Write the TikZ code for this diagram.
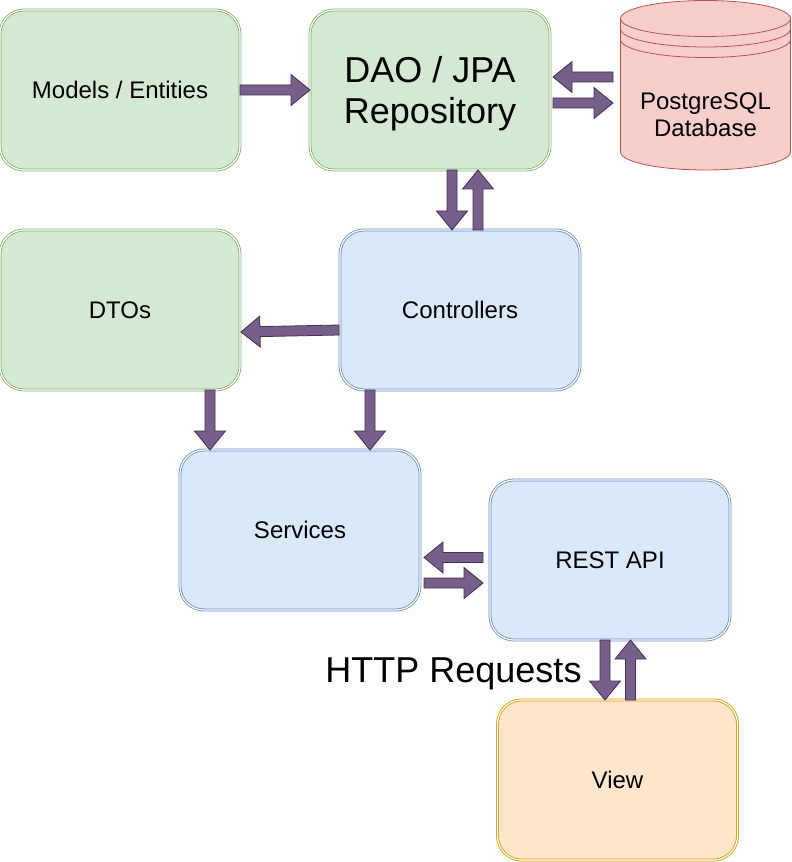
\documentclass[tikz,border=0pt]{standalone}
\usepackage{fontspec}
\setmainfont{Liberation Sans}
\usetikzlibrary{calc}

\definecolor{entityfill}{HTML}{D5E8D4}
\definecolor{entityline}{HTML}{82B366}
\definecolor{webfill}{HTML}{DAE8FC}
\definecolor{webline}{HTML}{6C8EBF}
\definecolor{dbfill}{HTML}{F8CECC}
\definecolor{dbline}{HTML}{B85450}
\definecolor{clientfill}{HTML}{FFE6CC}
\definecolor{clientline}{HTML}{D79B00}
\definecolor{flowfill}{HTML}{76608A}
\definecolor{flowline}{HTML}{432D57}

% block arrow from #1 to #2
\newcommand\flowarrow[2]{%
	\coordinate (fa-s) at (#1);
	\coordinate (fa-e) at (#2);
	\coordinate (fa-h) at ($(fa-e)!14.25pt!(fa-s)$);
	\draw[flow] ($(fa-s)!3.75pt!90:(fa-e)$) -- ($(fa-h)!3.75pt!-90:(fa-s)$) -- ($(fa-h)!11.6pt!-90:(fa-s)$)
		-- (fa-e) -- ($(fa-h)!11.6pt!90:(fa-s)$) -- ($(fa-h)!3.75pt!90:(fa-s)$) -- ($(fa-s)!3.75pt!-90:(fa-e)$) -- cycle;}

\begin{document}
\begin{tikzpicture}[x=0.75pt, y=-0.75pt,
		layer/.style={rectangle, rounded corners=18pt, minimum width=180pt, minimum height=120pt,
			inner sep=0pt, outer sep=0pt, line width=0.6pt, double=white, double distance=0.9pt,
			align=center, font=\fontsize{18}{20.25}\selectfont},
		entity/.style={fill=entityfill, draw=entityline},
		web/.style={fill=webfill, draw=webline},
		client/.style={fill=clientfill, draw=clientline},
		big/.style={font=\fontsize{27}{30.75}\selectfont},
		flow/.style={draw=flowline, fill=flowfill, line width=0.6pt, line join=miter}]
	\def\dbl{620.5}
	\def\dbr{790.5}
	\def\dbt{18.5}
	\def\dbb{152}
	
	\useasboundingbox (0,0) rectangle (791,862);
	
	\node[layer, entity] (models) at (120,90) {Models / Entities};
	\node[layer, entity, big, text depth=0pt] (dao) at (430,90) {DAO / JPA\\Repository};
	\node[layer, entity] (dtos) at (120,310) {DTOs};
	\node[layer, web] (ctrl) at (460,310) {Controllers};
	\node[layer, web] (services) at (300,530) {Services};
	\node[layer, web] (rest) at (610,560) {REST API};
	\node[layer, client] (view) at (617.5,780) {View};
	
	% database
	\draw[fill=dbfill, draw=dbline, line width=0.6pt] (\dbl,\dbt) -- (\dbl,\dbb)
		arc[start angle=180, end angle=360, x radius=63.75pt, y radius=13.5pt] -- (\dbr,\dbt)
		arc[start angle=0, end angle=180, x radius=63.75pt, y radius=13.5pt] -- cycle;
	\draw[draw=dbline, line width=0.6pt] (\dbl,\dbt) arc[start angle=180, end angle=360, x radius=63.75pt, y radius=13.5pt];
	\draw[draw=dbline, line width=0.6pt] (\dbl,\dbt+10.5) arc[start angle=180, end angle=360, x radius=63.75pt, y radius=13.5pt];
	\draw[draw=dbline, line width=0.6pt] (\dbl,\dbt+21) arc[start angle=180, end angle=360, x radius=63.75pt, y radius=13.5pt];
	\node[align=center, font=\fontsize{18}{20.25}\selectfont] (db) at (705.5,115) {PostgreSQL\\Database};
	
	\node[big] (http) at (453.5,674) {HTTP Requests};
	
	\flowarrow{models.east}{dao.west}
	\flowarrow{$(dao.east)+(63,-13)$}{$(dao.east)+(3,-13)$}
	\flowarrow{$(dao.east)+(3,13)$}{$(dao.east)+(63,13)$}
	\flowarrow{$(dao.south)+(22,0)$}{$(ctrl.north)+(-8,0)$}
	\flowarrow{$(ctrl.north)+(18,0)$}{$(dao.south)+(48,0)$}
	\flowarrow{$(ctrl.west)+(-1,20)$}{$(dtos.east)+(1,22)$}
	\flowarrow{$(dtos.south)+(90,0)$}{$(services.north)+(-90,0)$}
	\flowarrow{$(ctrl.south)+(-90,0)$}{$(services.north)+(70,0)$}
	\flowarrow{$(rest.west)+(-7,-2.5)$}{$(services.east)+(4,27.5)$}
	\flowarrow{$(services.east)+(4,53)$}{$(rest.west)+(-7,23)$}
	\flowarrow{$(rest.south)+(-5,0)$}{$(view.north)+(-12.5,0)$}
	\flowarrow{$(view.north)+(13,0)$}{$(rest.south)+(20.5,0)$}
\end{tikzpicture}
\end{document}
